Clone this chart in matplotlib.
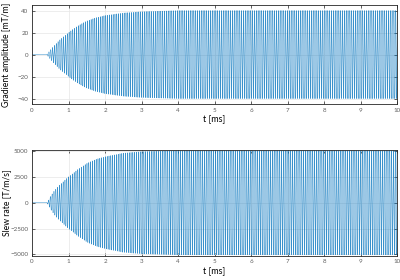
import numpy as np
import matplotlib.pyplot as plt

# envelope of the waveform
env_t = [0.0, 0.4, 0.45, 0.5, 0.6, 0.75, 1.0, 1.25, 1.5, 1.75, 2.0, 2.5, 3.0, 3.5, 4.0, 10.0]
grad_env = [0, 0, 2, 4, 8, 13, 20, 26, 30.5, 33.5, 35.5, 37.8, 39, 39.5, 40, 40]      # mT/m
slew_env = [0, 0, 250, 600, 1100, 1700, 2500, 3200, 3800, 4200, 4450, 4800, 4950, 5000, 5050, 5050]  # T/m/s
freq_khz = 19.9  # oscillation frequency
x_ticks = list(range(0, 11))

t = np.linspace(0, 10, 20001)
g = np.interp(t, env_t, grad_env) * np.sin(2 * np.pi * freq_khz * (t - 0.4))
s = np.interp(t, env_t, slew_env) * np.cos(2 * np.pi * freq_khz * (t - 0.4))

plt.rcParams['font.family'] = ['Lato', 'DejaVu Sans']
blue = '#0072BD'

fig = plt.figure(figsize=(4, 2.8), dpi=100)
ax1 = fig.add_axes([0.08, 0.628, 0.913, 0.354])
ax2 = fig.add_axes([0.08, 0.087, 0.913, 0.378])

for ax, y, ylab, lim, yt in [
        (ax1, g, 'Gradient amplitude [mT/m]', 45, [-40, -20, 0, 20, 40]),
        (ax2, s, 'Slew rate [T/m/s]', 5120, [-5000, -2500, 0, 2500, 5000])]:
    ax.plot(t, y, color=blue, lw=0.28)
    ax.set_xlim(0, 10)
    ax.set_ylim(-lim, lim)
    ax.set_xticks(x_ticks)
    ax.set_yticks(yt)
    ax.grid(True, color='#e6e6e6', lw=0.5)
    ax.set_axisbelow(True)
    ax.tick_params(direction='in', length=2.5, width=0.5, labelsize=4.5,
                   colors='#262626', labelcolor='#606060', top=True, right=True, pad=2.5)
    for sp in ax.spines.values():
        sp.set_color('#262626')
        sp.set_linewidth(0.6)
    ax.set_xlabel('t [ms]', fontsize=6.5, labelpad=2)
    ax.set_ylabel(ylab, fontsize=6.2)
    ax.yaxis.set_label_coords(-0.058, 0.5)

fig.savefig('out.png', dpi=100)
